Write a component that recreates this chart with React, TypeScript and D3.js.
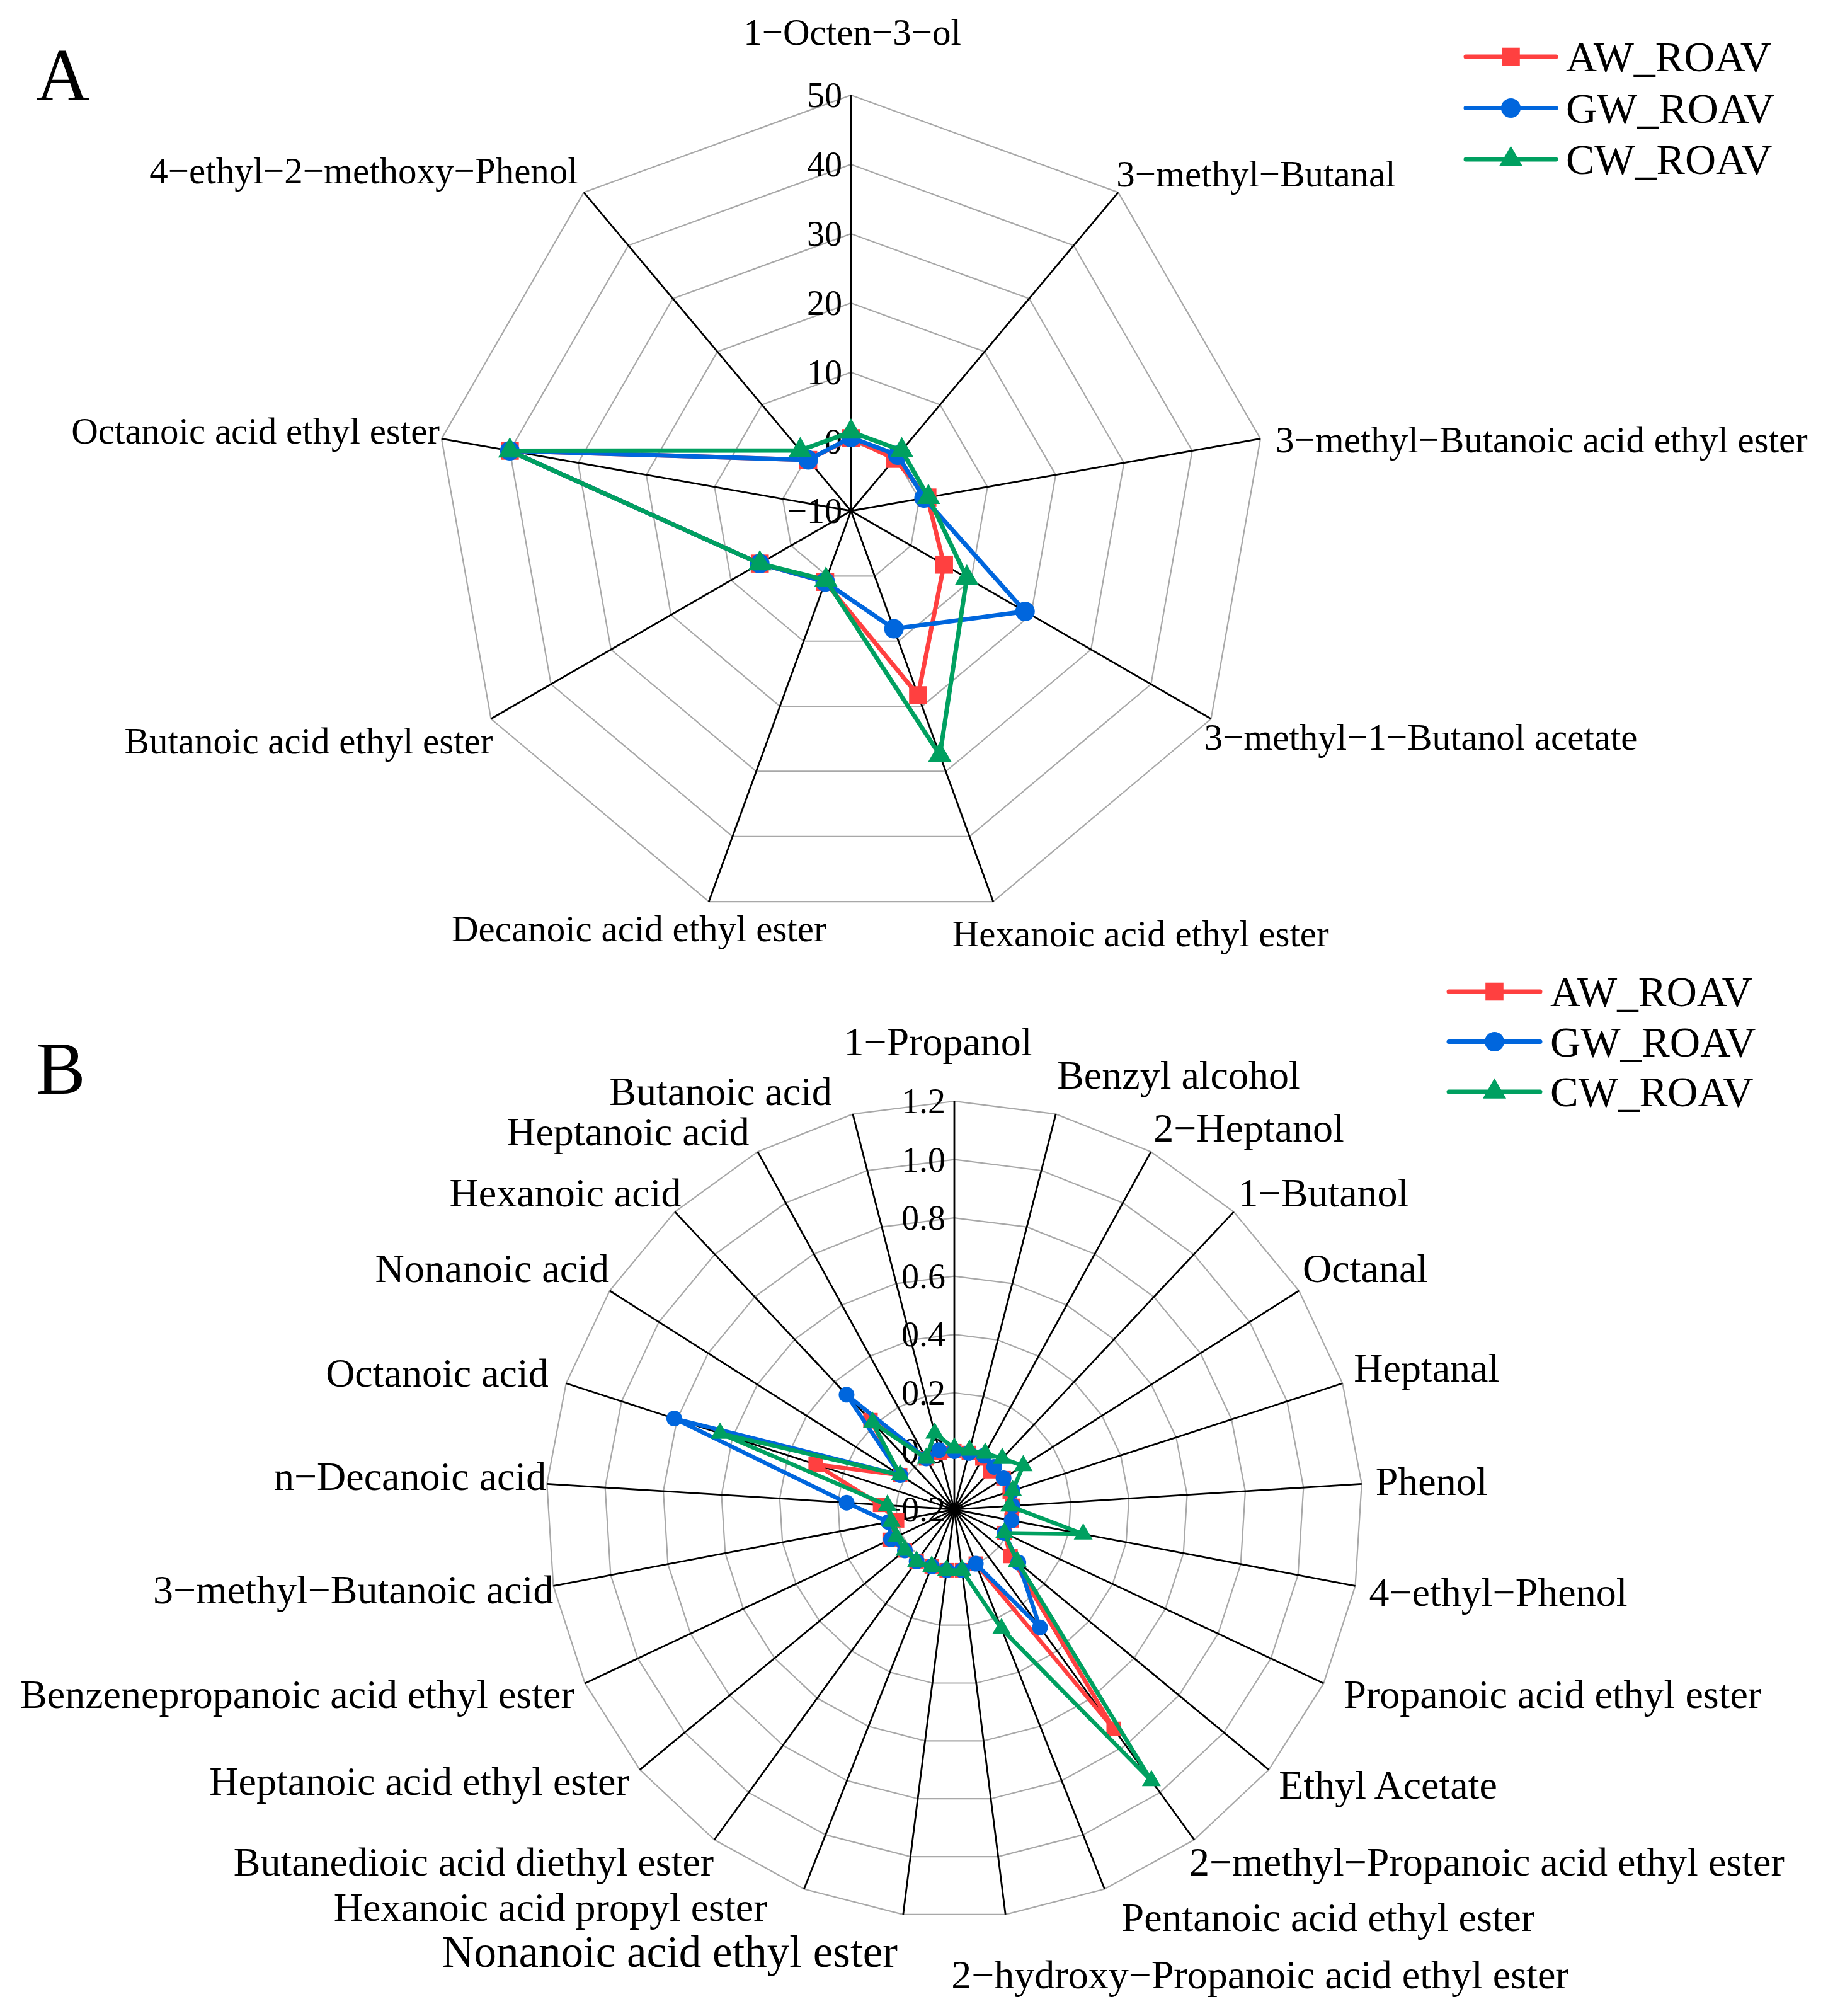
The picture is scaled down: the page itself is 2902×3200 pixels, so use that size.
import React, { useEffect, useRef } from 'react';
import * as d3 from 'd3';

const seriesNames = ['AW_ROAV', 'GW_ROAV', 'CW_ROAV'];
const seriesColors = ['#ff4040', '#0066dd', '#00a060'];

// Panel A
const aCategories = [
  '1−Octen−3−ol',
  '3−methyl−Butanal',
  '3−methyl−Butanoic acid ethyl ester',
  '3−methyl−1−Butanol acetate',
  'Hexanoic acid ethyl ester',
  'Decanoic acid ethyl ester',
  'Butanoic acid ethyl ester',
  'Octanoic acid ethyl ester',
  '4−ethyl−2−methoxy−Phenol',
];
const aAW = [0.5, -0.2, 1.2, 5.5, 18.3, 0.9, 5.2, 40, -0.4];
const aGW = [0.6, 0.5, 0.7, 19.0, 8.1, 0.9, 5.2, 40, -0.4];
const aCW = [1.4, 1.4, 1.35, 9.3, 27.5, 0.6, 5.2, 40, 1.4];
const aTicks = [-10, 0, 10, 20, 30, 40, 50];

// Panel B
const bCategories = [
  '1−Propanol',
  'Benzyl alcohol',
  '2−Heptanol',
  '1−Butanol',
  'Octanal',
  'Heptanal',
  'Phenol',
  '4−ethyl−Phenol',
  'Propanoic acid ethyl ester',
  'Ethyl Acetate',
  '2−methyl−Propanoic acid ethyl ester',
  'Pentanoic acid ethyl ester',
  '2−hydroxy−Propanoic acid ethyl ester',
  'Nonanoic acid ethyl ester',
  'Hexanoic acid propyl ester',
  'Butanedioic acid diethyl ester',
  'Heptanoic acid ethyl ester',
  'Benzenepropanoic acid ethyl ester',
  '3−methyl−Butanoic acid',
  'n−Decanoic acid',
  'Octanoic acid',
  'Nonanoic acid',
  'Hexanoic acid',
  'Heptanoic acid',
  'Butanoic acid',
];
const bAW = [0.0, 0.0, 0.0, -0.02, 0.0, 0.0, 0.0, 0.0, -0.01, 0.05, 0.73, 0.0, 0.01, 0.01, 0.01, 0.02, 0.02, 0.045, 0.0, 0.055, 0.3, 0.02, 0.22, 0.0, 0.0];
const bGW = [0.0, 0.0, 0.01, 0.0, 0.0, 0.01, 0.0, 0.0, -0.01, 0.085, 0.3, 0.0, 0.01, 0.01, 0.01, 0.02, 0.02, 0.04, 0.03, 0.17, 0.81, 0.02, 0.34, 0.0, 0.01];
const bCW = [0.01, 0.01, 0.02, 0.04, 0.08, 0.01, -0.01, 0.25, -0.01, 0.08, 0.95, 0.24, 0.01, 0.01, 0.01, 0.02, 0.02, 0.02, 0.02, 0.03, 0.645, 0.02, 0.21, 0.0, 0.07];
const bTicks = [-0.2, 0, 0.2, 0.4, 0.6, 0.8, 1.0, 1.2];

// label placement relative to the end of each spoke: [anchor, dx, dy]
const aLabelPos: [string, number, number][] = [
  ['middle', 2, -100], ['start', -3, -29], ['start', 24, 2], ['start', -11, 29],
  ['start', -65, 51], ['middle', -111, 43], ['end', 3, 35], ['end', -3, -12], ['end', -9, -34],
];
const bLabelPos: [string, number, number][] = [
  ['middle', -26, -95], ['start', 2, -62], ['start', 4, -38], ['start', 7, -30], ['start', 6, -35],
  ['start', 18, -24], ['start', 22, -4], ['start', 22, 10], ['start', 32, 18], ['start', 16, 24],
  ['start', -8, 35], ['start', 27, 45], ['start', -86, 96], ['end', -9, 59], ['end', -59, 29],
  ['end', -1, 35], ['end', -17, 18], ['end', -17, 18], ['end', 0, 6], ['end', -1, -12],
  ['end', -28, -16], ['end', -1, -35], ['end', 10, -30], ['end', -13, -32], ['end', -33, -36],
];

const FONT = '"Liberation Serif", "Times New Roman", serif';

interface RadarOpts {
  cx: number;
  cy: number;
  R: number;
  ticks: number[];
  tickFmt: (d: number) => string;
  cats: string[];
  values: number[][];
  labelPos: [string, number, number][];
  labelSize: number;
  bigLabel?: number;
  tickSize: number;
  marker: number;
  lineW: number;
}

function markerPaths(s: number) {
  return [
    d3.symbol().type(d3.symbolSquare).size(s * s * 0.85)(),
    d3.symbol().type(d3.symbolCircle).size(Math.PI * (s / 2) * (s / 2))(),
    d3.symbol().type(d3.symbolTriangle).size(((s * 1.2) * (s * 1.2) * Math.sqrt(3)) / 4)(),
  ];
}

function drawRadar(svg: d3.Selection<SVGSVGElement, unknown, null, undefined>, o: RadarOpts) {
  const n = o.cats.length;
  const angle = d3.scaleLinear().domain([0, n]).range([0, 2 * Math.PI]);
  const r = d3.scaleLinear().domain([o.ticks[0], o.ticks[o.ticks.length - 1]]).range([0, o.R]);
  const g = svg.append('g').attr('transform', `translate(${o.cx},${o.cy})`);
  const pt = (i: number, rad: number): [number, number] => [rad * Math.sin(angle(i)), -rad * Math.cos(angle(i))];

  // rings
  o.ticks.slice(1).forEach((t) => {
    const ring = d3.lineRadial<number>().angle((d) => angle(d)).radius(() => r(t)).curve(d3.curveLinearClosed);
    g.append('path').attr('d', ring(d3.range(n))).attr('fill', 'none').attr('stroke', '#a8a8a8').attr('stroke-width', 2.2);
  });

  // tick labels
  g.selectAll('text.tick')
    .data(o.ticks)
    .enter()
    .append('text')
    .attr('x', -14)
    .attr('y', (d: number) => -r(d))
    .attr('text-anchor', 'end')
    .attr('dominant-baseline', 'central')
    .attr('font-family', FONT)
    .attr('font-size', o.tickSize)
    .attr('fill', '#000')
    .text(o.tickFmt);

  // spokes
  d3.range(n).forEach((i) => {
    const [x, y] = pt(i, o.R);
    g.append('line').attr('x1', 0).attr('y1', 0).attr('x2', x).attr('y2', y).attr('stroke', '#000').attr('stroke-width', 2.8);
  });

  // category labels
  o.cats.forEach((c, i) => {
    const [x, y] = pt(i, o.R);
    const [anchor, dx, dy] = o.labelPos[i];
    const big = o.bigLabel !== undefined && c === 'Nonanoic acid ethyl ester';
    g.append('text')
      .attr('x', x + dx)
      .attr('y', y + dy)
      .attr('text-anchor', anchor)
      .attr('dominant-baseline', 'central')
      .attr('font-family', FONT)
      .attr('font-size', big ? o.bigLabel! : o.labelSize)
      .attr('fill', '#000')
      .text(c);
  });

  // series
  const line = d3.lineRadial<number>().angle((_, i) => angle(i)).radius((d) => r(d)).curve(d3.curveLinearClosed);
  const syms = markerPaths(o.marker);
  o.values.forEach((vals, s) => {
    g.append('path')
      .attr('d', line(vals))
      .attr('fill', 'none')
      .attr('stroke', seriesColors[s])
      .attr('stroke-width', o.lineW)
      .attr('stroke-linejoin', 'round');
    g.selectAll(null)
      .data(vals)
      .enter()
      .append('path')
      .attr('transform', (d: number, i: number) => `translate(${pt(i, r(d))})`)
      .attr('d', syms[s])
      .attr('fill', seriesColors[s]);
  });
}

function drawLegend(
  svg: d3.Selection<SVGSVGElement, unknown, null, undefined>,
  x0: number,
  x1: number,
  y0: number,
  step: number,
  fontSize: number,
  marker: number,
) {
  const syms = markerPaths(marker);
  const g = svg.append('g');
  seriesNames.forEach((name, s) => {
    const y = y0 + s * step;
    g.append('line').attr('x1', x0).attr('x2', x1).attr('y1', y).attr('y2', y)
      .attr('stroke', seriesColors[s]).attr('stroke-width', 7).attr('stroke-linecap', 'round');
    g.append('path').attr('transform', `translate(${(x0 + x1) / 2},${y})`).attr('d', syms[s]).attr('fill', seriesColors[s]);
    g.append('text').attr('x', x1 + 16).attr('y', y).attr('dominant-baseline', 'central')
      .attr('font-family', FONT).attr('font-size', fontSize).attr('fill', '#000').text(name);
  });
}

export default function App() {
  const svgRef = useRef<SVGSVGElement>(null);

  useEffect(() => {
    if (!svgRef.current) return;
    const svg = d3.select(svgRef.current);
    svg.selectAll('*').remove();

    svg.append('rect').attr('width', 2902).attr('height', 3200).attr('fill', '#fff');

    drawRadar(svg, {
      cx: 1351, cy: 811, R: 660,
      ticks: aTicks,
      tickFmt: (d) => d3.format('d')(d).replace('-', '−'),
      cats: aCategories,
      values: [aAW, aGW, aCW],
      labelPos: aLabelPos,
      labelSize: 59,
      tickSize: 56,
      marker: 31,
      lineW: 7,
    });

    drawRadar(svg, {
      cx: 1515, cy: 2396, R: 648,
      ticks: bTicks,
      tickFmt: (d) => d3.format('.1f')(d).replace('-', '−'),
      cats: bCategories,
      values: [bAW, bGW, bCW],
      labelPos: bLabelPos,
      labelSize: 64,
      bigLabel: 71,
      tickSize: 56,
      marker: 25,
      lineW: 6.5,
    });

    drawLegend(svg, 2327, 2470, 90, 81.5, 68, 31);
    drawLegend(svg, 2300, 2445, 1574, 79.5, 67, 31);

    svg.append('text').attr('x', 57).attr('y', 159).attr('font-family', FONT).attr('font-size', 118).text('A');
    svg.append('text').attr('x', 57).attr('y', 1736).attr('font-family', FONT).attr('font-size', 118).text('B');
  }, []);

  return (
    <svg
      ref={svgRef}
      width={2902}
      height={3200}
      viewBox="0 0 2902 3200"
      style={{ position: 'absolute', left: 0, top: 0, display: 'block' }}
    />
  );
}
